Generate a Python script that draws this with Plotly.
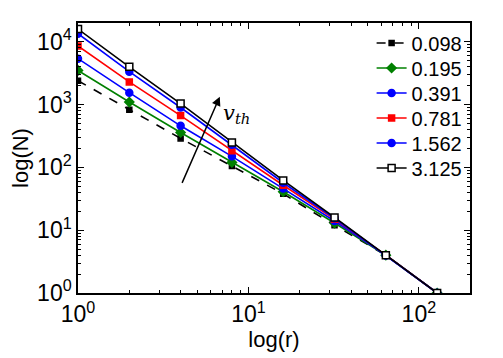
import plotly.graph_objects as go

r_vals = [1, 2, 4, 8, 16, 32, 64, 128]
series_names = ["0.098", "0.195", "0.391", "0.781", "1.562", "3.125"]
N_0098 = [2400, 830, 290, 105, 38, 12, 4, 1]
N_0195 = [3500, 1100, 360, 120, 41, 13, 4, 1]
N_0391 = [5400, 1550, 460, 150, 46, 14, 4, 1]
N_0781 = [8600, 2300, 670, 185, 52, 15, 4, 1]
N_1562 = [13500, 3350, 900, 230, 57, 15.5, 4, 1]
N_3125 = [16000, 4000, 1040, 250, 62, 16, 4, 1]
series_values = [N_0098, N_0195, N_0391, N_0781, N_1562, N_3125]

x_tick_vals = [1, 10, 100]
x_tick_text = ["10<sup>0</sup>", "10<sup>1</sup>", "10<sup>2</sup>"]
y_tick_vals = [1, 10, 100, 1000, 10000]
y_tick_text = ["10<sup>0</sup>", "10<sup>1</sup>", "10<sup>2</sup>", "10<sup>3</sup>", "10<sup>4</sup>"]
x_minor_vals = [2, 3, 4, 5, 6, 7, 8, 9, 20, 30, 40, 50, 60, 70, 80, 90, 200]
y_minor_vals = [m * d for d in [1, 10, 100, 1000, 10000] for m in range(2, 10)]

styles = [
    dict(color="black", dash="dash", symbol="square", size=5, fill="black"),
    dict(color="#008000", dash="solid", symbol="diamond", size=7, fill="#008000"),
    dict(color="#0000ff", dash="solid", symbol="circle", size=7, fill="#0000ff"),
    dict(color="#ff0000", dash="solid", symbol="square", size=6, fill="#ff0000"),
    dict(color="#0000ff", dash="solid", symbol="circle", size=7, fill="#0000ff"),
    dict(color="black", dash="solid", symbol="square", size=7, fill="white"),
]

FONT = "Liberation Sans, Arial, sans-serif"

# page body has an 8px default margin; compensate so plot area sits at x 72..470, y 23..293
W, H = 495, 350
ML, MR, MT, MB = 64, 33, 15, 65

fig = go.Figure()
legend_ids = ["legend", "legend2", "legend3", "legend4", "legend5", "legend6"]
for name, vals, st, lid in zip(series_names, series_values, styles, legend_ids):
    fig.add_trace(go.Scatter(
        x=r_vals, y=vals, name=name, mode="lines+markers", legend=lid,
        line=dict(color=st["color"], dash=st["dash"], width=1.6),
        marker=dict(symbol=st["symbol"], size=st["size"], color=st["fill"],
                    line=dict(color=st["color"], width=1.5)),
    ))

axis_common = dict(
    type="log", showgrid=False, zeroline=False, showline=True,
    linecolor="black", linewidth=1.5, mirror="allticks",
    ticks="inside", ticklen=6, tickcolor="black",
    tickfont=dict(family=FONT, size=23, color="black"),
)

fig.update_xaxes(range=[0, 2.3], tickmode="array", tickvals=x_tick_vals, ticktext=x_tick_text,
                 minor=dict(ticks="inside", ticklen=3, tickcolor="black", tickvals=x_minor_vals),
                 title=dict(text="log(r)", standoff=0,
                            font=dict(family=FONT, size=22, color="black")),
                 **axis_common)
fig.update_yaxes(range=[0, 4.3], tickmode="array", tickvals=y_tick_vals, ticktext=y_tick_text,
                 minor=dict(ticks="inside", ticklen=3, tickcolor="black", tickvals=y_minor_vals),
                 title=dict(text="log(N)", standoff=2,
                            font=dict(family=FONT, size=22, color="black")),
                 **axis_common)

fig.add_annotation(x=0.832, y=3.127, ax=0.607, ay=1.73, xref="x", yref="y",
                   axref="x", ayref="y", showarrow=True, arrowhead=2,
                   arrowsize=1.2, arrowwidth=1.5, arrowcolor="black", text="")
fig.add_annotation(x=0.931, y=2.857, xref="x", yref="y", showarrow=False,
                   text="<i>v</i><sub><i>th</i></sub>",
                   font=dict(family="DejaVu Serif, serif", size=21, color="black"))

plot_h = H - MT - MB
row_y = [43, 68, 93, 118, 143, 168]  # legend row centres (page px)
legend_layout = {}
for lid, yy in zip(legend_ids, row_y):
    legend_layout[lid] = dict(
        x=0.749, y=(293 - yy) / plot_h, xanchor="left", yanchor="middle",
        bgcolor="rgba(0,0,0,0)", itemwidth=30,
        font=dict(family=FONT, size=20, color="black"),
    )

fig.update_layout(
    width=W, height=H,
    margin=dict(l=ML, r=MR, t=MT, b=MB),
    paper_bgcolor="white", plot_bgcolor="white",
    showlegend=True,
    **legend_layout,
)

fig.write_html("out.html")
